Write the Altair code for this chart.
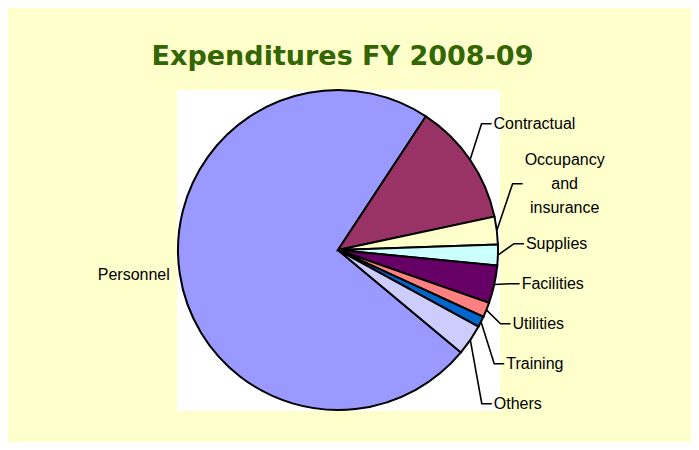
import math
import altair as alt
import pandas as pd

# ---- data ----
categories = ["Personnel", "Contractual", "Occupancy\nand\ninsurance", "Supplies",
              "Facilities", "Utilities", "Training", "Others"]
shares = [73.2, 12.4, 2.8, 2.1, 3.8, 1.5, 1.1, 3.1]
colors = ["#9999FF", "#993366", "#FFFFCC", "#CCFFFF", "#660066", "#FF8080", "#0066CC", "#CCCCFF"]
title_text = "Expenditures FY 2008-09"

# ---- layout constants ----
W, H = 683, 434
CX, CY, R = 330, 242, 160
START = math.radians(129.8)
R_LABEL = 186      # radius where moved labels are anchored
R_NEAR = 168       # radius for labels that stay in place
LINE = 20
GAP = 20
LH = 24            # line height of multi-line labels

total = sum(shares)
mids = []
acc = 0.0
for s in shares:
    mids.append(START + 2 * math.pi * (acc + s / 2) / total)
    acc += s

labels = []
for i, (c, m) in enumerate(zip(categories, mids)):
    nlines = c.count("\n") + 1
    labels.append(dict(idx=i, text=c, mid=m, lines=nlines, h=LINE * nlines,
                       right=math.sin(m) > 0, ny=CY - R_LABEL * math.cos(m)))


def spread(items):
    items = sorted(items, key=lambda d: d["ny"])
    clusters = [[it] for it in items]

    def place(cl):
        offs = [0.0]
        for a, b in zip(cl, cl[1:]):
            offs.append(offs[-1] + (a["h"] + b["h"]) / 2 + GAP)
        top = sum(it["ny"] - o for it, o in zip(cl, offs)) / len(cl)
        return [top + o for o in offs]

    changed = True
    while changed:
        changed = False
        for k in range(len(clusters) - 1):
            ya = place(clusters[k])[-1]
            yb = place(clusters[k + 1])[0]
            a, b = clusters[k][-1], clusters[k + 1][0]
            if yb - ya < (a["h"] + b["h"]) / 2 + GAP:
                clusters[k] = clusters[k] + clusters[k + 1]
                del clusters[k + 1]
                changed = True
                break
    for cl in clusters:
        for it, y in zip(cl, place(cl)):
            it["y"] = y
            it["moved"] = len(cl) > 1


spread([d for d in labels if d["right"]])
spread([d for d in labels if not d["right"]])

text_rows, leader_rows = [], []
for d in labels:
    m = d["mid"]
    sgn = 1 if d["right"] else -1
    if d["moved"]:
        ax = CX + R_LABEL * math.sin(m)
        y = d["y"]
        p0 = (CX + R * math.sin(m), CY - R * math.cos(m))
        for step, (px, py) in enumerate([p0, (ax - sgn * 10, y), (ax, y)]):
            leader_rows.append(dict(label=d["text"], step=step, x=px, y=py))
    else:
        ax = CX + R_NEAR * math.sin(m)
        y = CY - R_NEAR * math.cos(m)
    if d["lines"] > 1:
        width = max(len(s) for s in d["text"].split("\n")) * 8.9
        tx = ax + sgn * (2 + width / 2)
        kind = "center"
        ty = y - (d["lines"] - 1) * LH / 2
    else:
        tx = ax + sgn * 2
        kind = "left" if d["right"] else "right"
        ty = y
    text_rows.append(dict(text=d["text"], x=tx, y=ty, kind=kind))

pie_df = pd.DataFrame({"category": categories, "share": shares, "idx": range(len(shares))})
text_df = pd.DataFrame(text_rows)
leader_df = pd.DataFrame(leader_rows)

bg = alt.Chart(pd.DataFrame({"a": [0]})).mark_rect(color="white").encode(
    x=alt.value(CX - R - 1), x2=alt.value(CX + R + 2),
    y=alt.value(CY - R), y2=alt.value(CY + R + 1))

pie = alt.Chart(pie_df).mark_arc(outerRadius=R, stroke="black", strokeWidth=2).encode(
    theta=alt.Theta("share:Q", stack=True,
                    scale=alt.Scale(range=[START, START + 2 * math.pi])),
    color=alt.Color("category:N", scale=alt.Scale(domain=categories, range=colors), legend=None),
    order=alt.Order("idx:Q"),
    x=alt.value(CX), y=alt.value(CY))

leaders = alt.Chart(leader_df).mark_line(color="black", strokeWidth=1.6).encode(
    x=alt.X("x:Q", scale=None, axis=None),
    y=alt.Y("y:Q", scale=None, axis=None),
    detail="label:N", order="step:Q")

text_layers = []
for kind in ["left", "right", "center"]:
    text_layers.append(
        alt.Chart(text_df).transform_filter(alt.datum.kind == kind).mark_text(
            align=kind, baseline="middle", font="Liberation Sans", fontSize=16,
            lineBreak="\n", lineHeight=LH, color="black").encode(
            x=alt.X("x:Q", scale=None, axis=None),
            y=alt.Y("y:Q", scale=None, axis=None),
            text="text:N"))

title = alt.Chart(pd.DataFrame({"t": [title_text]})).mark_text(
    align="center", baseline="alphabetic", font="DejaVu Sans", fontWeight="bold",
    fontSize=27, color="#336600").encode(
    text="t:N", x=alt.value(334.5), y=alt.value(57))

chart = alt.layer(bg, pie, leaders, *text_layers, title).properties(
    width=W, height=H, padding=0,
    autosize=alt.AutoSizeParams(type="none"),
    background="#FFFFCC",
).configure_view(stroke=None)

chart.save("out.html", embed_options={"renderer": "svg", "actions": False})
